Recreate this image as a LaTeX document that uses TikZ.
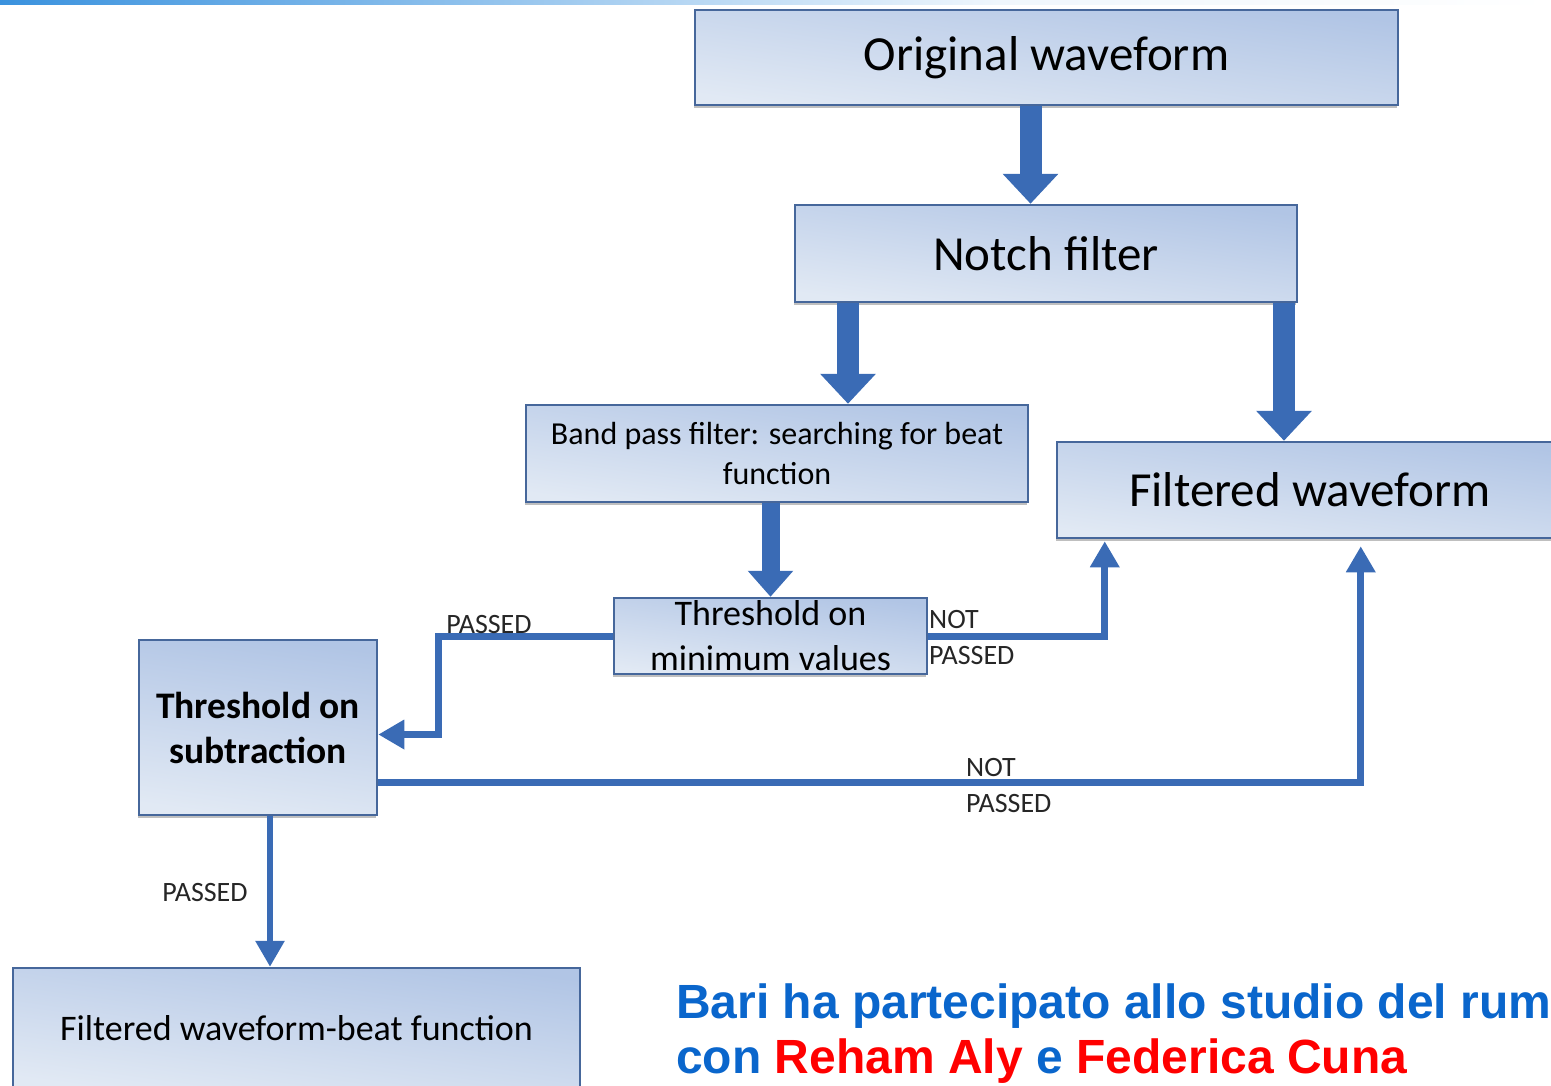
\documentclass[tikz,border=0pt]{standalone}
\usepackage{fontspec}
\setmainfont{Carlito}
\newfontfamily\arialfont{Liberation Sans}
\usepackage{tikz}
\usetikzlibrary{
        shadows,
        positioning,
        arrows.meta
    }
\definecolor{boxtop}{HTML}{B1C5E5}
\definecolor{boxbot}{HTML}{E1E9F4}
\definecolor{boxline}{HTML}{46679B}
\definecolor{flowblue}{HTML}{3A6BB5}
\definecolor{slideblue}{HTML}{0A66CC}
\definecolor{barblue}{HTML}{3A92DE}

\begin{document}
\begin{tikzpicture}
[x=1pt, y=-1pt,
baseshape/.style={rectangle, draw=boxline, line width=2.5pt, inner sep=0pt, align=center,
  top color=boxtop, bottom color=boxbot, shading angle=-8,
  drop shadow={shadow xshift=-1.5pt, shadow yshift=-2.5pt, fill=black!50, opacity=0.5}},
process/.style={baseshape, font=\fontsize{49}{52}\selectfont},
smallprocess/.style={baseshape, font=\fontsize{32}{40}\selectfont},
note/.style={inner sep=0pt, font=\fontsize{28}{36}\selectfont, text=black!85},
bigarrow/.style={flowblue, line width=22pt, -{Triangle[length=30pt, width=54pt]}},
midarrow/.style={flowblue, line width=18pt, -{Triangle[length=26pt, width=44pt]}},
arrow/.style={flowblue, line width=7pt, -{Triangle[length=26pt, width=28pt]}},
slide/.style={inner sep=0pt, anchor=base west, text=slideblue, font=\arialfont\bfseries\fontsize{48}{55}\selectfont},
]
    \useasboundingbox (0,0) rectangle (1551,1085);
    \clip (0,0) rectangle (1551,1085);
    \fill[left color=barblue, right color=barblue!8] (0,0) rectangle (1000,4);
    \fill[left color=barblue!8, right color=white] (1000,0) rectangle (1551,4);

    \node (orig) [process, minimum width=703pt, minimum height=95pt] at (1046.5,57.5) {Original waveform};
    \node (notch) [process, minimum width=502pt, minimum height=97pt] at (1046,253.5) {Notch filter};
    \node (band) [smallprocess, minimum width=502pt, minimum height=97pt] at (777,453.5) {Band pass filter: searching for beat\\function};
    \node (filtered) [process, minimum width=506pt, minimum height=96pt] at (1310,490) {Filtered waveform};
    \node (thrmin) [baseshape, minimum width=313pt, minimum height=76pt,
        label={[font=\fontsize{36}{45}\selectfont, align=center]center:{Threshold on\\minimum values}}] at (770.5,636) {};
    \node (thrsub) [baseshape, minimum width=238pt, minimum height=175pt, font=\bfseries\fontsize{37.5}{45}\selectfont] at (258,727.5) {Threshold on\\subtraction};
    \node (final) [baseshape, minimum width=567pt, minimum height=120pt, font=\fontsize{36}{40}\selectfont] at (296.5,1028) {Filtered waveform-beat function};

    \draw[bigarrow] ([xshift=-16pt]orig.south) -- ([xshift=-16pt]orig.south |- notch.north);
    \draw[bigarrow] ([xshift=-198pt]notch.south) -- ([xshift=-198pt]notch.south |- band.north);
    \draw[bigarrow] ([xshift=238pt]notch.south) -- ([xshift=238pt]notch.south |- filtered.north);
    \draw[midarrow] (band.south -| thrmin.north) -- (thrmin.north);

    \draw[arrow] (thrmin.west) -- ++(-174,0) |- ([yshift=-7pt]thrsub.east);
    \draw[arrow] (thrmin.east) -| ([xshift=49pt, yshift=-2pt]filtered.south west);
    \draw[arrow] ([yshift=-54.5pt]thrsub.east) -| ([xshift=305pt, yshift=-7pt]filtered.south west);
    \draw[arrow, line width=6pt] ([xshift=12pt]thrsub.south) -- ([xshift=12pt]thrsub.south |- final.north);

    \node (pass1) [note] at (489,625) {PASSED};
    \node (notpass1) [note, anchor=west, align=left] at (929,638) {NOT\\PASSED};
    \node (notpass2) [note, anchor=west, align=left] at (966,785.5) {NOT\\PASSED};
    \node (pass2) [note] at (205,892) {PASSED};

    \node (bari) [slide] at (676,1018) {Bari ha partecipato allo studio del rumore};
    \node (con) [slide] at (676,1073) {con \textcolor{red}{Reham Aly} e \textcolor{red}{Federica Cuna}};
\end{tikzpicture}
\end{document}
